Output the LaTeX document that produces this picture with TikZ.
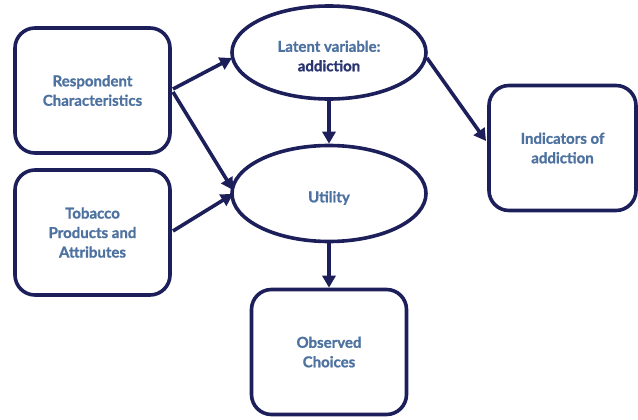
\documentclass[tikz,border=0pt]{standalone}
\usepackage{fontspec}
\setmainfont{Lato}[BoldFeatures={FakeBold=1.2}]
\usetikzlibrary{arrows.meta,shapes.geometric}
\definecolor{navy}{HTML}{1C1F5A}
\definecolor{txtblue}{HTML}{4E72A0}
\definecolor{txtdark}{HTML}{2A3470}
\begin{document}
\begin{tikzpicture}[x=1pt,y=-1pt,
  box/.style={draw=navy,line width=3.6pt,rounded corners=20pt,minimum width=155pt,minimum height=125pt,inner sep=0pt},
  oval/.style={draw=navy,line width=3.6pt,ellipse,inner sep=0pt},
  lbl/.style={text=txtblue,font=\bfseries\fontsize{15}{19.5}\selectfont,align=center},
  arr/.style={draw=navy,line width=3.6pt,-{Triangle[length=12pt,width=13pt]}}]
\useasboundingbox (0,0) rectangle (638,420);
\node[box,lbl] (resp) at (92.5,90.5) {Respondent\\Characteristics};
\node[box,lbl] (tob) at (92.5,232.5) {Tobacco\\Products and\\Attributes};
\node[oval,minimum width=194pt,minimum height=93pt] (lat) at (329,52.5) {};
\node[lbl] (lattxt) at (329,56) {Latent variable:\\\textcolor{txtdark}{addiction}};
\node[oval,minimum width=194pt,minimum height=96pt] (util) at (329,193.5) {};
\node[lbl] (utiltxt) at (329,198) {Utility};
\node[box,lbl,minimum width=147pt] (ind) at (562.5,148) {Indicators of\\addiction};
\node[box,lbl] (obs) at (329,352) {Observed\\Choices};
\coordinate (r1) at (173,89);
\coordinate (r2) at (173,92);
\coordinate (t1) at (173,231);
\coordinate (l1) at (232,58);
\coordinate (u1) at (233,190);
\coordinate (u2) at (233,194);
\coordinate (l2) at (427,58);
\coordinate (i1) at (486,141);
\draw[arr] (r1) -- (l1);
\draw[arr] (r2) -- (u1);
\draw[arr] (t1) -- (u2);
\draw[arr] (lat.south) -- (util.north);
\draw[arr] (util.south) -- (obs.north);
\draw[arr] (l2) -- (i1);
\end{tikzpicture}
\end{document}
